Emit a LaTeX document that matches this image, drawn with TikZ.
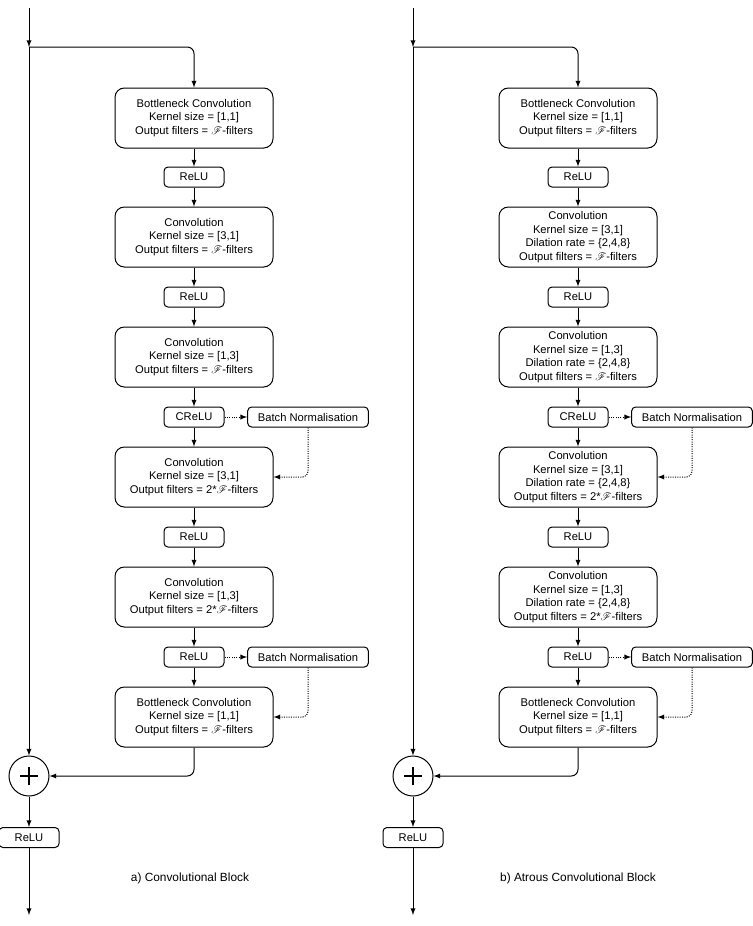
\documentclass[tikz,border=0pt]{standalone}
\usepackage{fontspec}
\setmainfont{Liberation Sans}
\usepackage{mathrsfs}
\usetikzlibrary{arrows}
\usetikzlibrary{math}
\newcommand{\Ffil}{$\mathscr{F}$}

\begin{document}
\begin{tikzpicture}[x=0.75pt,y=-0.75pt,
  line width=0.75pt,
  block/.style={draw, rounded corners=7pt, minimum width=118.5pt, minimum height=45pt,
    align=center, inner sep=1pt, font=\fontsize{8.4}{10.3}\selectfont},
  act/.style={draw, rounded corners=3pt, minimum width=45pt, minimum height=15pt,
    inner sep=1pt, font=\fontsize{8.4}{10}\selectfont},
  norm/.style={act, minimum width=90.5pt},
  sum/.style={draw, circle, minimum size=30pt, inner sep=0pt,
    path picture={\draw[line width=2.2pt] ([xshift=-7pt]path picture bounding box.center) -- ([xshift=7pt]path picture bounding box.center);
      \draw[line width=2.2pt] ([yshift=-7pt]path picture bounding box.center) -- ([yshift=7pt]path picture bounding box.center);}},
  caption/.style={font=\fontsize{8.9}{10}\selectfont},
  side/.style={-latex, densely dotted, rounded corners=4pt}
]
\tikzmath{
\cx=194;
\lx=29;
\bnx=308;
}
\useasboundingbox (0,0) rectangle (753,926);

\begin{scope}
\coordinate (a-top) at (\lx,8);
\coordinate (a-in) at (\lx,47);
\coordinate (a-out) at (\lx,915);

\node[block] (a-c1) at (\cx,118) {Bottleneck Convolution\\Kernel size = [1,1]\\Output filters = \Ffil-filters};
\node[act] (a-r1) at (\cx,177) {ReLU};
\node[block] (a-c2) at (\cx,237) {Convolution\\Kernel size = [3,1]\\Output filters = \Ffil-filters};
\node[act] (a-r2) at (\cx,297) {ReLU};
\node[block] (a-c3) at (\cx,357) {Convolution\\Kernel size = [1,3]\\Output filters = \Ffil-filters};
\node[act] (a-r3) at (\cx,417) {CReLU};
\node[norm] (a-n1) at (\bnx,417) {Batch Normalisation};
\node[block] (a-c4) at (\cx,477) {Convolution\\Kernel size = [3,1]\\Output filters = 2*\Ffil-filters};
\node[act] (a-r4) at (\cx,537) {ReLU};
\node[block] (a-c5) at (\cx,597) {Convolution\\Kernel size = [1,3]\\Output filters = 2*\Ffil-filters};
\node[act] (a-r5) at (\cx,657) {ReLU};
\node[norm] (a-n2) at (\bnx,657) {Batch Normalisation};
\node[block] (a-c6) at (\cx,717) {Bottleneck Convolution\\Kernel size = [1,1]\\Output filters = \Ffil-filters};
\node[sum] (a-sum) at (\lx,776) {};
\node[act] (a-r6) at (\lx,837.5) {ReLU};
\node[caption] (a-cap) at (190,878) {a) Convolutional Block};

\draw[-latex] (a-top) -- (a-in);
\draw[-latex] (a-in) -- (a-sum);
\draw[-latex, rounded corners=5pt] (a-in) -| (a-c1);
\draw[-latex] (a-c1) -- (a-r1);
\draw[-latex] (a-r1) -- (a-c2);
\draw[-latex] (a-c2) -- (a-r2);
\draw[-latex] (a-r2) -- (a-c3);
\draw[-latex] (a-c3) -- (a-r3);
\draw[-latex] (a-r3) -- (a-c4);
\draw[-latex] (a-c4) -- (a-r4);
\draw[-latex] (a-r4) -- (a-c5);
\draw[-latex] (a-c5) -- (a-r5);
\draw[-latex] (a-r5) -- (a-c6);
\draw[side] (a-r3) -- (a-n1);
\draw[side] (a-n1) |- (a-c4);
\draw[side] (a-r5) -- (a-n2);
\draw[side] (a-n2) |- (a-c6);
\draw[-latex, rounded corners=5pt] (a-c6) |- (a-sum);
\draw[-latex] (a-sum) -- (a-r6);
\draw[-latex] (a-r6) -- (a-out);
\end{scope}
%%%%%%%%%%   atrous

\begin{scope}[shift={(384,0)}]
\coordinate (b-top) at (\lx,8);
\coordinate (b-in) at (\lx,47);
\coordinate (b-out) at (\lx,915);

\node[block] (b-c1) at (\cx,118) {Bottleneck Convolution\\Kernel size = [1,1]\\Output filters = \Ffil-filters};
\node[act] (b-r1) at (\cx,177) {ReLU};
\node[block] (b-c2) at (\cx,237) {Convolution\\Kernel size = [3,1]\\Dilation rate = \{2,4,8\}\\Output filters = \Ffil-filters};
\node[act] (b-r2) at (\cx,297) {ReLU};
\node[block] (b-c3) at (\cx,357) {Convolution\\Kernel size = [1,3]\\Dilation rate = \{2,4,8\}\\Output filters = \Ffil-filters};
\node[act] (b-r3) at (\cx,417) {CReLU};
\node[norm] (b-n1) at (\bnx,417) {Batch Normalisation};
\node[block] (b-c4) at (\cx,477) {Convolution\\Kernel size = [3,1]\\Dilation rate = \{2,4,8\}\\Output filters = 2*\Ffil-filters};
\node[act] (b-r4) at (\cx,537) {ReLU};
\node[block] (b-c5) at (\cx,597) {Convolution\\Kernel size = [1,3]\\Dilation rate = \{2,4,8\}\\Output filters = 2*\Ffil-filters};
\node[act] (b-r5) at (\cx,657) {ReLU};
\node[norm] (b-n2) at (\bnx,657) {Batch Normalisation};
\node[block] (b-c6) at (\cx,717) {Bottleneck Convolution\\Kernel size = [1,1]\\Output filters = \Ffil-filters};
\node[sum] (b-sum) at (\lx,776) {};
\node[act] (b-r6) at (\lx,837.5) {ReLU};
\node[caption] (b-cap) at (194,878) {b) Atrous Convolutional Block};

\draw[-latex] (b-top) -- (b-in);
\draw[-latex] (b-in) -- (b-sum);
\draw[-latex, rounded corners=5pt] (b-in) -| (b-c1);
\draw[-latex] (b-c1) -- (b-r1);
\draw[-latex] (b-r1) -- (b-c2);
\draw[-latex] (b-c2) -- (b-r2);
\draw[-latex] (b-r2) -- (b-c3);
\draw[-latex] (b-c3) -- (b-r3);
\draw[-latex] (b-r3) -- (b-c4);
\draw[-latex] (b-c4) -- (b-r4);
\draw[-latex] (b-r4) -- (b-c5);
\draw[-latex] (b-c5) -- (b-r5);
\draw[-latex] (b-r5) -- (b-c6);
\draw[side] (b-r3) -- (b-n1);
\draw[side] (b-n1) |- (b-c4);
\draw[side] (b-r5) -- (b-n2);
\draw[side] (b-n2) |- (b-c6);
\draw[-latex, rounded corners=5pt] (b-c6) |- (b-sum);
\draw[-latex] (b-sum) -- (b-r6);
\draw[-latex] (b-r6) -- (b-out);
\end{scope}

\end{tikzpicture}
\end{document}
